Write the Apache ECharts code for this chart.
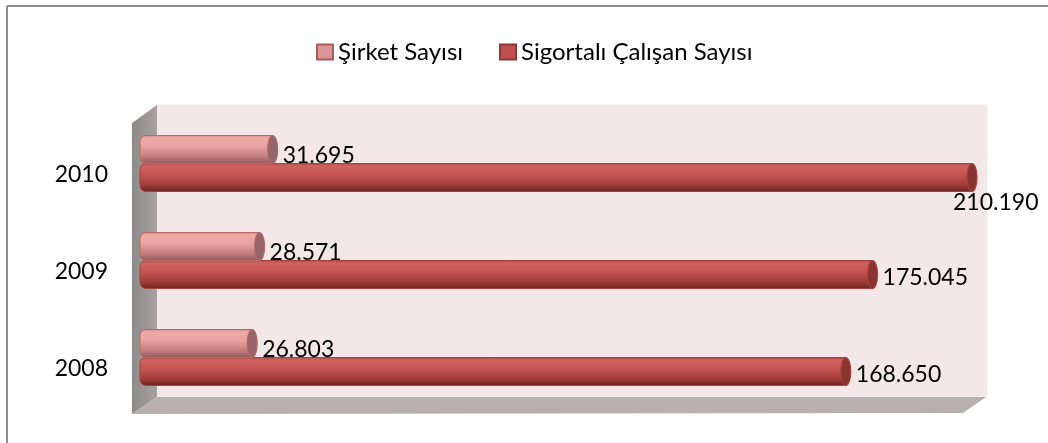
<!DOCTYPE html>
<html>
<head>
<meta charset="utf-8">
<script src="https://cdn.jsdelivr.net/npm/echarts@6/dist/echarts.min.js"></script>
<style>
  html, body { margin: 0; padding: 0; background: #fff; }
  #chart { width: 1048px; height: 443px; }
</style>
</head>
<body>
<div id="chart"></div>
<script>
  // values as printed on the chart
  var years = ['2008', '2009', '2010']
  var sirketSayisi = [26803, 28571, 31695]
  var sigortaliSayisi = [168650, 175045, 210190]
  var xMax = 200000

  var FONT = 'Lato, "Open Sans", sans-serif'
  var BAR_H = 28

  function fmt(v) {
    return String(v).replace(/\B(?=(\d{3})+(?!\d))/g, '.')
  }

  var gradients = {
    sirket: [
      { offset: 0, color: '#c98888' },
      { offset: 0.1, color: '#eeaaaa' },
      { offset: 0.4, color: '#e8a2a2' },
      { offset: 0.75, color: '#c27c7c' },
      { offset: 1, color: '#8e5656' }
    ],
    sigorta: [
      { offset: 0, color: '#a84542' },
      { offset: 0.1, color: '#d0625e' },
      { offset: 0.4, color: '#c45450' },
      { offset: 0.75, color: '#a23d3a' },
      { offset: 1, color: '#6a2321' }
    ]
  }

  function makeRender(upper, grad, capFill, stroke) {
    return function (params, api) {
      var v = api.value(0)
      var c = api.value(1)
      var start = api.coord([0, c])
      var clipped = v > xMax
      var end = api.coord([Math.min(v, xMax), c])
      var x0 = start[0]
      var x1 = clipped ? end[0] - 5 : end[0]
      var top = upper ? start[1] - BAR_H : start[1]
      var mid = top + BAR_H / 2
      var label
      if (clipped) {
        label = { x: x1 - 19, y: top + BAR_H + 11 }
      } else {
        label = { x: x1 + 10, y: mid + (upper ? 6 : 3) }
      }
      return {
        type: 'group',
        children: [
          {
            type: 'rect',
            shape: { x: x0, y: top, width: x1 - x0, height: BAR_H, r: [6, 0, 0, 6] },
            style: {
              fill: new echarts.graphic.LinearGradient(0, 0, 0, 1, grad),
              stroke: stroke,
              lineWidth: 1
            }
          },
          {
            type: 'ellipse',
            shape: { cx: x1, cy: mid, rx: 5, ry: BAR_H / 2 },
            style: { fill: capFill, stroke: stroke, lineWidth: 1.2 }
          },
          {
            type: 'text',
            style: {
              text: fmt(v),
              x: label.x,
              y: label.y,
              font: '23px ' + FONT,
              fill: '#000',
              align: 'left',
              verticalAlign: 'middle'
            }
          }
        ]
      }
    }
  }

  var chart = echarts.init(document.getElementById('chart'))

  chart.setOption({
    animation: false,
    backgroundColor: '#fff',
    graphic: [
      // frame
      { type: 'line', shape: { x1: 7, y1: 6, x2: 1048, y2: 6 }, style: { stroke: '#8f8f8f', lineWidth: 2 }, z: 0 },
      { type: 'line', shape: { x1: 7, y1: 6, x2: 7, y2: 443 }, style: { stroke: '#8f8f8f', lineWidth: 2 }, z: 0 },
      // back wall
      { type: 'rect', shape: { x: 157, y: 105, width: 830, height: 292 }, style: { fill: '#f4e7e8', stroke: '#eeeeee', lineWidth: 1 }, z: 0 },
      // left wall
      {
        type: 'polygon',
        shape: { points: [[132, 123], [157, 105], [157, 397], [132, 414]] },
        style: {
          fill: new echarts.graphic.LinearGradient(0, 0, 1, 0, [
            { offset: 0, color: '#8d8a8a' },
            { offset: 1, color: '#a6a2a2' }
          ])
        },
        z: 0
      },
      // floor
      {
        type: 'polygon',
        shape: { points: [[132, 414], [157, 397], [986, 397], [963, 413]] },
        style: { fill: '#b7afb0' },
        z: 0
      }
    ],
    legend: {
      left: 311,
      top: 35,
      icon: 'rect',
      itemWidth: 16,
      itemHeight: 15,
      itemGap: 36,
      textStyle: { fontFamily: FONT, fontSize: 24, color: '#000' },
      data: ['Şirket Sayısı', 'Sigortalı Çalışan Sayısı']
    },
    grid: { left: 140, top: 115, width: 837, height: 291 },
    xAxis: {
      type: 'value',
      min: 0,
      max: xMax,
      show: false
    },
    yAxis: {
      type: 'category',
      data: years,
      axisLine: { show: false },
      axisTick: { show: false },
      splitLine: { show: false },
      axisLabel: {
        margin: 32,
        verticalAlign: 'top',
        fontFamily: FONT,
        fontSize: 23,
        color: '#000'
      }
    },
    series: [
      {
        name: 'Şirket Sayısı',
        type: 'custom',
        renderItem: makeRender(true, gradients.sirket, '#956567', '#b86868'),
        itemStyle: { color: '#d99694', borderColor: '#b05a58', borderWidth: 1 },
        encode: { x: 0, y: 1 },
        data: sirketSayisi.map(function (v, i) { return [v, i] }),
        z: 3
      },
      {
        name: 'Sigortalı Çalışan Sayısı',
        type: 'custom',
        renderItem: makeRender(false, gradients.sigorta, '#8a3432', '#a8413e'),
        itemStyle: { color: '#c0504d', borderColor: '#8c3836', borderWidth: 1 },
        encode: { x: 0, y: 1 },
        data: sigortaliSayisi.map(function (v, i) { return [v, i] }),
        z: 2
      }
    ]
  })
</script>
</body>
</html>
